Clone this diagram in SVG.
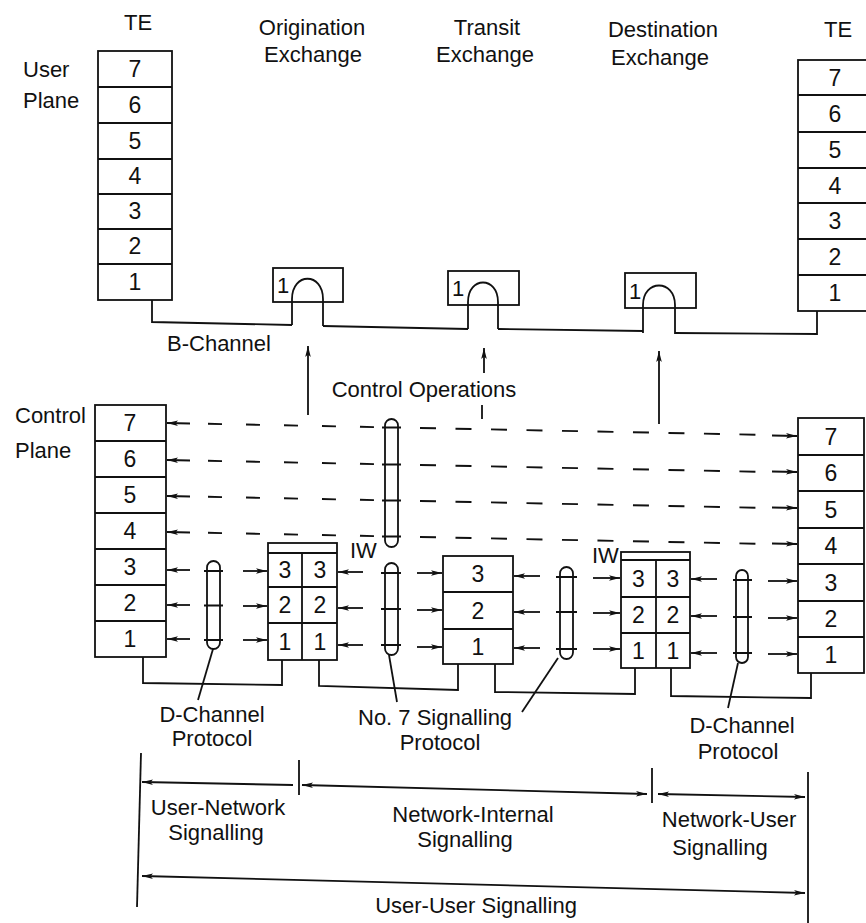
<svg xmlns="http://www.w3.org/2000/svg" width="866" height="923" viewBox="0 0 866 923">
<style>
.box{fill:#fff;stroke:#111;stroke-width:1.8}
.ln{fill:none;stroke:#111;stroke-width:1.8}
.ar{fill:none;stroke:#111;stroke-width:1.8;marker-end:url(#ah)}
.ar2{fill:none;stroke:#111;stroke-width:1.8;marker-start:url(#ah);marker-end:url(#ah)}
.dL{fill:none;stroke:#111;stroke-width:1.9;stroke-dasharray:14 24}
.dR{fill:none;stroke:#111;stroke-width:1.9;stroke-dasharray:16 19.5}
.lens{fill:#fff;stroke:#111;stroke-width:1.8}
text{font-family:"Liberation Sans",Arial,sans-serif;font-size:22px;fill:#111}
.c{text-anchor:middle}
.n{text-anchor:middle;font-size:23px}
</style>
<defs>
<marker id="ah" viewBox="0 0 11 7" refX="11" refY="3.5" markerWidth="11" markerHeight="7" markerUnits="userSpaceOnUse" orient="auto-start-reverse"><path d="M0,0.7 L11,3.5 L0,6.3 L2.5,3.5 Z" fill="#111"/></marker>
</defs>
<rect width="866" height="923" fill="#fff"/>

<g id="labels">
<text class="c" x="138" y="30">TE</text>
<text class="c" x="312" y="35">Origination</text>
<text class="c" x="313" y="62">Exchange</text>
<text class="c" x="487" y="35">Transit</text>
<text class="c" x="485" y="62">Exchange</text>
<text class="c" x="663" y="37">Destination</text>
<text class="c" x="660" y="65">Exchange</text>
<text class="c" x="838" y="37">TE</text>
<text x="23" y="77">User</text>
<text x="23" y="108">Plane</text>
<text class="c" x="219" y="351">B-Channel</text>
<text class="c" x="424" y="397">Control Operations</text>
<text x="15" y="423">Control</text>
<text x="15" y="458">Plane</text>
<text x="350" y="558" font-size="20">IW</text>
<text x="592" y="563" font-size="20">IW</text>
<text class="c" x="212" y="722">D-Channel</text>
<text class="c" x="212" y="746">Protocol</text>
<text x="358" y="725">No. 7 Signalling</text>
<text class="c" x="440" y="750">Protocol</text>
<text class="c" x="742" y="733">D-Channel</text>
<text class="c" x="738" y="759">Protocol</text>
<text class="c" x="218" y="815">User-Network</text>
<text class="c" x="216" y="840">Signalling</text>
<text class="c" x="473" y="822">Network-Internal</text>
<text class="c" x="465" y="847">Signalling</text>
<text class="c" x="729" y="827">Network-User</text>
<text class="c" x="720" y="855">Signalling</text>
<text class="c" x="476" y="913">User-User Signalling</text>
</g>

<g id="te-left-user">
<rect class="box" x="98" y="51" width="74" height="249"/>
<path class="ln" d="M98,87H172M98,123H172M98,159H172M98,194H172M98,229H172M98,264H172"/>
<text class="n" x="135" y="77">7</text><text class="n" x="135" y="113">6</text><text class="n" x="135" y="149">5</text><text class="n" x="135" y="184">4</text><text class="n" x="135" y="219">3</text><text class="n" x="135" y="254">2</text><text class="n" x="135" y="290">1</text>
</g>

<g id="te-right-user">
<rect class="box" x="798" y="60" width="74" height="251"/>
<path class="ln" d="M798,95H872M798,132H872M798,168H872M798,203H872M798,239H872M798,275H872"/>
<text class="n" x="835" y="86">7</text><text class="n" x="835" y="122">6</text><text class="n" x="835" y="158">5</text><text class="n" x="835" y="194">4</text><text class="n" x="835" y="229">3</text><text class="n" x="835" y="265">2</text><text class="n" x="835" y="301">1</text>
</g>

<g id="ex-orig-user">
<rect class="box" x="273" y="268" width="70" height="34"/>
<text x="277" y="293" font-size="22">1</text>
</g>
<g id="ex-transit-user">
<rect class="box" x="448" y="271" width="71" height="34"/>
<text x="452" y="296" font-size="22">1</text>
</g>
<g id="ex-dest-user">
<rect class="box" x="625" y="273" width="71" height="35"/>
<text x="629" y="299" font-size="22">1</text>
</g>

<g id="te-left-ctrl">
<rect class="box" x="95" y="405" width="71" height="252"/>
<path class="ln" d="M95,441H166M95,477H166M95,513H166M95,549H166M95,585H166M95,621H166"/>
<text class="n" x="130" y="431">7</text><text class="n" x="130" y="467">6</text><text class="n" x="130" y="503">5</text><text class="n" x="130" y="539">4</text><text class="n" x="130" y="575">3</text><text class="n" x="130" y="611">2</text><text class="n" x="130" y="647">1</text>
</g>

<g id="iw-orig">
<rect class="box" x="268" y="543" width="69" height="117"/>
<path class="ln" d="M268,553H337M268,587H337M268,623H337M302,553V660"/>
<text class="n" x="285" y="578">3</text><text class="n" x="320" y="578">3</text>
<text class="n" x="285" y="613">2</text><text class="n" x="320" y="613">2</text>
<text class="n" x="285" y="650">1</text><text class="n" x="320" y="650">1</text>
</g>

<g id="transit-ctrl">
<rect class="box" x="443" y="556" width="70" height="108"/>
<path class="ln" d="M443,592H513M443,629H513"/>
<text class="n" x="478" y="582">3</text><text class="n" x="478" y="619">2</text><text class="n" x="478" y="655">1</text>
</g>

<g id="iw-dest">
<rect class="box" x="621" y="552" width="69" height="116"/>
<path class="ln" d="M621,560H690M621,597H690M621,633H690M656,560V668"/>
<text class="n" x="638.5" y="587">3</text><text class="n" x="673" y="587">3</text>
<text class="n" x="638.5" y="623">2</text><text class="n" x="673" y="623">2</text>
<text class="n" x="638.5" y="659">1</text><text class="n" x="673" y="659">1</text>
</g>

<g id="te-right-ctrl">
<rect class="box" x="798" y="418" width="66" height="255"/>
<path class="ln" d="M798,455H864M798,491H864M798,528H864M798,564H864M798,601H864M798,637H864"/>
<text class="n" x="831" y="445">7</text><text class="n" x="831" y="481">6</text><text class="n" x="831" y="518">5</text><text class="n" x="831" y="554">4</text><text class="n" x="831" y="591">3</text><text class="n" x="831" y="627">2</text><text class="n" x="831" y="663">1</text>
</g>

<g id="connectors">
<polyline class="ln" points="152,300 152,322 292,325"/>
<path class="ln" d="M292,325 V299 C292,272 323,272 323,299 V326"/>
<polyline class="ln" points="323,326 468,329"/>
<path class="ln" d="M468,329 V302 C468,276 498,276 498,302 V329"/>
<polyline class="ln" points="498,329 643,331"/>
<path class="ln" d="M643,333 V305 C643,279 675,279 675,305 V334"/>
<polyline class="ln" points="675,333 817,334 817,311"/>

<line class="ar" x1="308" y1="415" x2="308" y2="346"/>
<line class="ar" x1="484" y1="373" x2="484" y2="348"/>
<line class="ln" x1="482" y1="405" x2="482" y2="419"/>
<line class="ar" x1="659" y1="424" x2="659" y2="351"/>

<line class="ar" x1="190" y1="423.5" x2="167" y2="423"/>
<line class="dL" x1="208" y1="423.8" x2="374" y2="427.1"/>
<line class="dR" x1="420" y1="428" x2="756" y2="434.7"/>
<line class="ar" x1="772" y1="435.5" x2="797" y2="436"/>

<line class="ar" x1="190" y1="460.5" x2="167" y2="460"/>
<line class="dL" x1="208" y1="460.8" x2="374" y2="464.1"/>
<line class="dR" x1="420" y1="465" x2="756" y2="471.7"/>
<line class="ar" x1="772" y1="471.5" x2="797" y2="472"/>

<line class="ar" x1="190" y1="496.5" x2="167" y2="496"/>
<line class="dL" x1="208" y1="496.8" x2="374" y2="500.1"/>
<line class="dR" x1="420" y1="501" x2="756" y2="507.7"/>
<line class="ar" x1="772" y1="507.5" x2="797" y2="508"/>

<line class="ar" x1="190" y1="532.5" x2="167" y2="532"/>
<line class="dL" x1="208" y1="532.8" x2="374" y2="536.1"/>
<line class="dR" x1="420" y1="537" x2="756" y2="543.7"/>
<line class="ar" x1="772" y1="543.5" x2="797" y2="544"/>

<line class="ar" x1="190" y1="570" x2="167" y2="570"/>
<line class="ar" x1="243" y1="571" x2="267" y2="571"/>
<line class="ar" x1="190" y1="605" x2="167" y2="605"/>
<line class="ar" x1="243" y1="606" x2="267" y2="606"/>
<line class="ar" x1="190" y1="639" x2="167" y2="639"/>
<line class="ar" x1="243" y1="640" x2="267" y2="640"/>

<line class="ar" x1="363" y1="572" x2="338" y2="572"/>
<line class="ar" x1="417" y1="573" x2="442" y2="573"/>
<line class="ar" x1="363" y1="608" x2="338" y2="608"/>
<line class="ar" x1="417" y1="610" x2="442" y2="610"/>
<line class="ar" x1="363" y1="645" x2="338" y2="645"/>
<line class="ar" x1="417" y1="647" x2="442" y2="647"/>

<line class="ar" x1="540" y1="576" x2="514" y2="576"/>
<line class="ar" x1="593" y1="578" x2="620" y2="578"/>
<line class="ar" x1="540" y1="612" x2="514" y2="612"/>
<line class="ar" x1="593" y1="613" x2="620" y2="613"/>
<line class="ar" x1="540" y1="648" x2="514" y2="648"/>
<line class="ar" x1="593" y1="649" x2="620" y2="649"/>

<line class="ar" x1="717" y1="579" x2="691" y2="579"/>
<line class="ar" x1="768" y1="581" x2="797" y2="581"/>
<line class="ar" x1="717" y1="616" x2="691" y2="616"/>
<line class="ar" x1="768" y1="618" x2="797" y2="618"/>
<line class="ar" x1="717" y1="653" x2="691" y2="653"/>
<line class="ar" x1="768" y1="654" x2="797" y2="654"/>

<polyline class="ln" points="143,657 143,683 282,685 282,660"/>
<polyline class="ln" points="319,660 319,686 458,690 458,664"/>
<polyline class="ln" points="495,664 495,692 635,694 635,668"/>
<polyline class="ln" points="671,668 671,696 811,698 811,673"/>

<line class="ln" x1="213" y1="649" x2="198" y2="700"/>
<line class="ln" x1="389" y1="655" x2="397" y2="702"/>
<line class="ln" x1="558" y1="658" x2="522" y2="712"/>
<line class="ln" x1="738" y1="663" x2="728" y2="708"/>

<line class="ln" x1="141" y1="753" x2="137" y2="907"/>
<line class="ln" x1="299" y1="760" x2="299" y2="795"/>
<line class="ln" x1="652" y1="768" x2="652" y2="803"/>
<line class="ln" x1="808" y1="772" x2="808" y2="923"/>
<line class="ar" x1="293" y1="785" x2="142" y2="782"/>
<line class="ar2" x1="302" y1="785" x2="647" y2="794"/>
<line class="ar2" x1="658" y1="794" x2="805" y2="797"/>
<line class="ar2" x1="142" y1="876" x2="805" y2="893"/>
</g>

<g id="lenses">
<rect class="lens" x="385" y="419" width="13" height="128" rx="6.5"/>
<path class="ln" d="M382,427.5H401M382,464.5H401M382,500.5H401M382,536.5H401"/>
<rect class="lens" x="207" y="561" width="13" height="88" rx="6.5"/>
<path class="ln" d="M204,571H223M204,605.5H223M204,640H223"/>
<rect class="lens" x="385" y="563" width="13" height="92" rx="6.5"/>
<path class="ln" d="M381,573H401M381,609H401M381,645H401"/>
<rect class="lens" x="560" y="567" width="13" height="92" rx="6.5"/>
<path class="ln" d="M556,577H577M556,612H577M556,649H577"/>
<rect class="lens" x="736" y="570" width="12" height="93" rx="6"/>
<path class="ln" d="M733,580H752M733,617H752M733,653H752"/>
</g>
</svg>
